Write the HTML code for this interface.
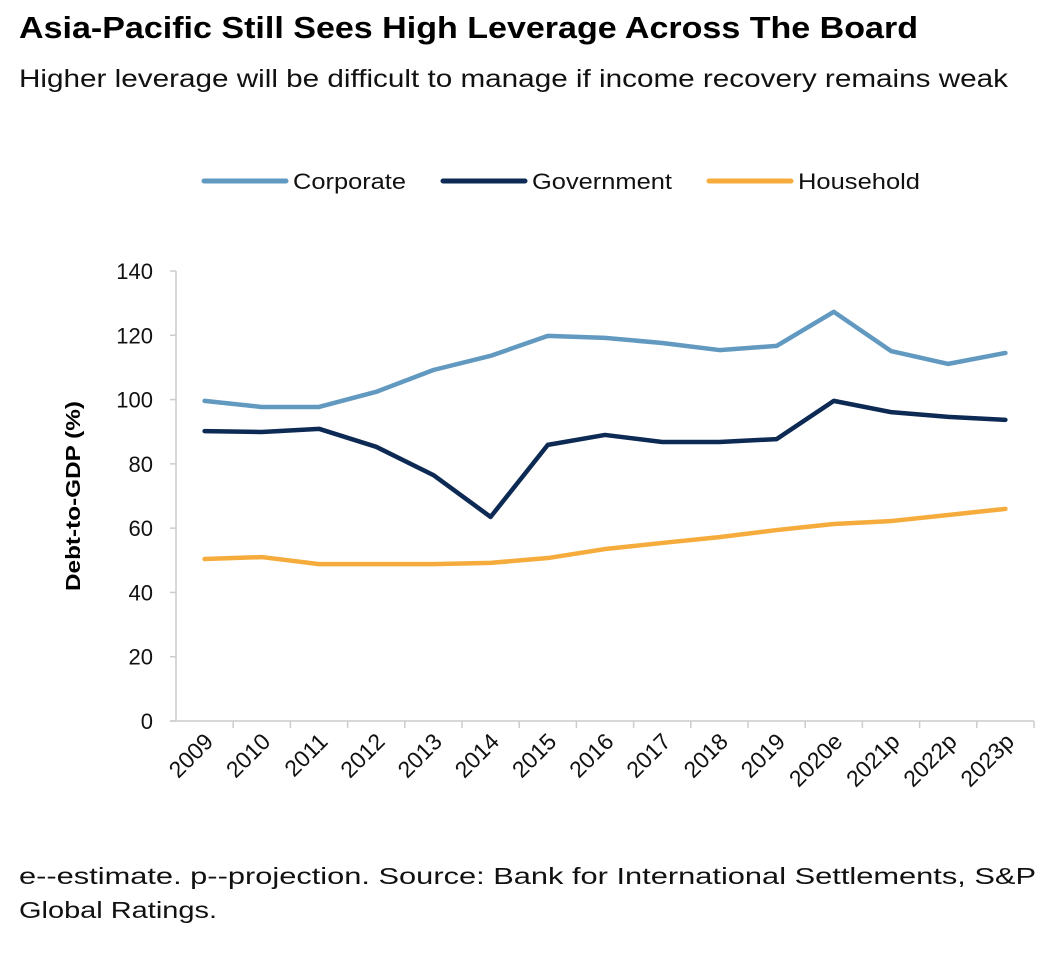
<!DOCTYPE html>
<html><head><meta charset="utf-8"><style>
body{margin:0;background:#fff;font-family:"Liberation Sans",sans-serif;}
svg text{font-family:"Liberation Sans",sans-serif;}
</style></head><body>
<svg width="1046" height="950" xmlns="http://www.w3.org/2000/svg">
<text x="19" y="38" font-size="31" font-weight="bold" fill="#000" textLength="899" lengthAdjust="spacingAndGlyphs">Asia-Pacific Still Sees High Leverage Across The Board</text>
<text x="19" y="87" font-size="25" fill="#111" textLength="989" lengthAdjust="spacingAndGlyphs">Higher leverage will be difficult to manage if income recovery remains weak</text>
<g id="legend"></g>
<g id="axes"></g>
<g id="series"></g>
<text transform="translate(80,496) rotate(-90)" text-anchor="middle" font-size="20" font-weight="bold" fill="#000" textLength="190" lengthAdjust="spacingAndGlyphs">Debt-to-GDP (%)</text>
<text x="19" y="884" font-size="23" fill="#111" textLength="1017" lengthAdjust="spacingAndGlyphs">e--estimate. p--projection. Source: Bank for International Settlements, S&amp;P</text>
<text x="19" y="918" font-size="23" fill="#111" textLength="198" lengthAdjust="spacingAndGlyphs">Global Ratings.</text>
</svg>
<script>
const categories=["2009","2010","2011","2012","2013","2014","2015","2016","2017","2018","2019","2020e","2021p","2022p","2023p"];
const corporate=[99.6,97.7,97.7,102.4,109.2,113.6,119.8,119.2,117.6,115.4,116.7,127.3,115.1,111.1,114.5];
const government=[90.2,89.9,90.9,85.3,76.5,63.5,85.9,89,86.8,86.8,87.7,99.6,96.1,94.6,93.7];
const household=[50.4,51,48.8,48.8,48.8,49.2,50.7,53.5,55.4,57.2,59.4,61.3,62.2,64.1,66];
const yTicks=[0,20,40,60,80,100,120,140];
const NS="http://www.w3.org/2000/svg";
const L=176,R=1034,T=271,B=721,YMAX=140;
const step=(R-L)/categories.length;
const xs=i=>L+step*(i+0.5);
const ys=v=>B-(v/YMAX)*(B-T);
function mk(tag,attrs,parent){const e=document.createElementNS(NS,tag);for(const k in attrs)e.setAttribute(k,attrs[k]);parent.appendChild(e);return e;}
const axes=document.getElementById('axes');
let e=mk('line',{x1:L,y1:T,x2:L,y2:B,stroke:'#ccc','stroke-width':1.5},axes);


e=mk('line',{x1:L-6,y1:B,x2:R,y2:B,stroke:'#ccc','stroke-width':1.5},axes);


yTicks.forEach(v=>{
 const t=mk('line',{x1:L-6,y1:ys(v),x2:L,y2:ys(v),stroke:'#ccc','stroke-width':1.5},axes);
 
 
 const tx=mk('text',{x:L-23,y:ys(v)+8,'text-anchor':'end','font-size':22,fill:'#111'},axes);
 tx.textContent=v;
 
 
});
categories.forEach((c,i)=>{
 const xb=L+step*(i+1);
 const t=mk('line',{x1:xb,y1:B,x2:xb,y2:B+7,stroke:'#ccc','stroke-width':1.5},axes);
 
 
 const x=xs(i)+10,y=B+22;
 const tx=mk('text',{x:x,y:y,'text-anchor':'end','font-size':23,fill:'#111',transform:`rotate(-45 ${x} ${y})`},axes);
 tx.textContent=c;
 
 
});
const ser=document.getElementById('series');
[[corporate,'#6299c0','corporate-line'],[government,'#0d2a55','government-line'],[household,'#f5ac3c','household-line']].forEach(([d,c,n])=>{
 const p=mk('polyline',{points:d.map((v,i)=>xs(i)+','+ys(v)).join(' '),fill:'none',stroke:c,'stroke-width':4.5,'stroke-linejoin':'round','stroke-linecap':'round'},ser);
 
 
});
const lg=document.getElementById('legend');
[['Corporate','#6299c0',204,113],['Government','#0d2a55',443,140],['Household','#f5ac3c',709,122]].forEach(([n,c,x,w])=>{
 const l=mk('line',{x1:x,y1:181,x2:x+82,y2:181,stroke:c,'stroke-width':5,'stroke-linecap':'round'},lg);
 
 
 const t=mk('text',{x:x+89,y:189,'font-size':22,fill:'#111',textLength:w,lengthAdjust:'spacingAndGlyphs'},lg);
 t.textContent=n;
 
 
});
</script>
</body></html>
